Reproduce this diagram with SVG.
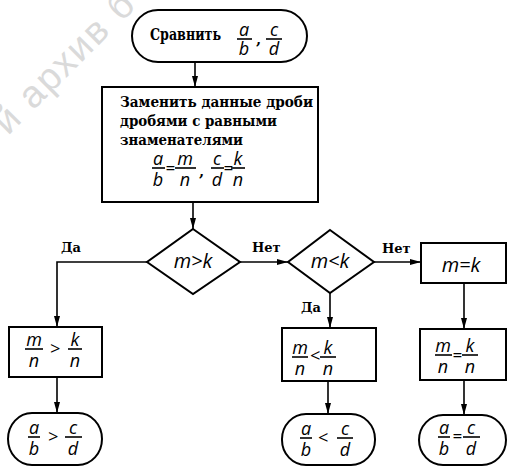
<svg xmlns="http://www.w3.org/2000/svg" width="512" height="467" viewBox="0 0 512 467">
  <style>
    .shape{fill:#fff;stroke:#000;stroke-width:2}
    .ln{fill:none;stroke:#000;stroke-width:1.6}
    .bar{stroke:#000;stroke-width:1.6}
    .cy{font-family:"DejaVu Serif","Liberation Serif",serif;font-weight:bold;font-size:15px;fill:#000}
    .lbl{font-family:"DejaVu Serif","Liberation Serif",serif;font-weight:bold;font-size:13px;fill:#000}
    .mt{font-family:"Open Sans","DejaVu Sans",sans-serif;font-style:italic;font-size:18px;fill:#000;text-anchor:middle}
    .op{font-size:17px}
    .big{font-size:20px}
    .wm{font-family:"Liberation Sans","DejaVu Sans",sans-serif;font-size:38px;fill:#dadada;letter-spacing:2px}
  </style>
  <defs>
    <marker id="ah" markerWidth="12" markerHeight="8" refX="11" refY="3" orient="auto" markerUnits="userSpaceOnUse">
      <path d="M0,0 L11,3 L0,6 z" fill="#000"/>
    </marker>
  </defs>

  <!-- background watermark -->
  <text class="wm" transform="translate(8,136) rotate(-45)">й архив б</text>

  <!-- connectors -->
  <g id="connectors" class="ln">
    <path d="M195,62 V87" marker-end="url(#ah)"/>
    <path d="M193,202 V229" marker-end="url(#ah)"/>
    <path d="M147,262 H57 V327" marker-end="url(#ah)"/>
    <path d="M240,262 H288" marker-end="url(#ah)"/>
    <path d="M374,262 H421" marker-end="url(#ah)"/>
    <path d="M330,293 V328" marker-end="url(#ah)"/>
    <path d="M464,283 V329" marker-end="url(#ah)"/>
    <path d="M57,377 V413" marker-end="url(#ah)"/>
    <path d="M328,381 V414" marker-end="url(#ah)"/>
    <path d="M464,380 V415" marker-end="url(#ah)"/>
  </g>
  <g id="edge-labels">
    <text class="lbl" x="61" y="252">Да</text>
    <text class="lbl" x="252" y="252">Нет</text>
    <text class="lbl" x="382" y="253">Нет</text>
    <text class="lbl" x="301" y="312">Да</text>
  </g>

  <!-- start -->
  <g id="start">
    <rect class="shape" x="132" y="10" width="175" height="52" rx="26" ry="26"/>
    <text class="cy" x="150" y="40" style="font-size:16px" textLength="71" lengthAdjust="spacingAndGlyphs">Сравнить</text>
    <text class="mt" x="244" y="36">a</text><line class="bar" x1="237" y1="39" x2="252" y2="39"/><text class="mt" x="244" y="55">b</text>
    <text class="cy" x="256" y="44">,</text>
    <text class="mt" x="274" y="36">c</text><line class="bar" x1="266" y1="39" x2="282" y2="39"/><text class="mt" x="274" y="55">d</text>
  </g>

  <!-- common denominator step -->
  <g id="convert">
    <rect class="shape" x="102" y="87" width="216" height="115"/>
    <text class="cy" x="120" y="107" textLength="193" lengthAdjust="spacingAndGlyphs">Заменить данные дроби</text>
    <text class="cy" x="120" y="126" textLength="157" lengthAdjust="spacingAndGlyphs">дробями с равными</text>
    <text class="cy" x="120" y="145" textLength="123" lengthAdjust="spacingAndGlyphs">знаменателями</text>
    <text class="mt" x="158" y="165">a</text><line class="bar" x1="152" y1="168" x2="165" y2="168"/><text class="mt" x="158" y="186">b</text>
    <text class="mt op" x="170" y="174">=</text>
    <text class="mt" x="185" y="165">m</text><line class="bar" x1="175" y1="168" x2="196" y2="168"/><text class="mt" x="185" y="186">n</text>
    <text class="cy" x="199" y="176">,</text>
    <text class="mt" x="217" y="165">c</text><line class="bar" x1="211" y1="168" x2="224" y2="168"/><text class="mt" x="217" y="186">d</text>
    <text class="mt op" x="228" y="174">=</text>
    <text class="mt" x="238" y="165">k</text><line class="bar" x1="231" y1="168" x2="245" y2="168"/><text class="mt" x="238" y="186">n</text>
  </g>

  <!-- decisions -->
  <g id="test-greater">
    <polygon class="shape" points="193,229 240,262 193,294 147,262"/>
    <text class="mt big" x="193" y="268">m&gt;k</text>
  </g>
  <g id="test-less">
    <polygon class="shape" points="330,230 374,262 330,293 288,262"/>
    <text class="mt big" x="330" y="268">m&lt;k</text>
  </g>
  <g id="equal">
    <rect class="shape" x="421" y="243" width="85" height="40"/>
    <text class="mt big" x="461" y="272">m=k</text>
  </g>

  <!-- comparison of numerators -->
  <g id="frac-greater">
    <rect class="shape" x="9" y="327" width="93" height="50"/>
    <text class="mt" x="34" y="346">m</text><line class="bar" x1="25" y1="349" x2="43" y2="349"/><text class="mt" x="34" y="367">n</text>
    <text class="mt" x="55" y="355">&gt;</text>
    <text class="mt" x="75" y="346">k</text><line class="bar" x1="68" y1="349" x2="82" y2="349"/><text class="mt" x="75" y="367">n</text>
  </g>
  <g id="frac-less">
    <rect class="shape" x="282" y="328" width="94" height="53"/>
    <text class="mt" x="300" y="354">m</text><line class="bar" x1="292" y1="357" x2="308" y2="357"/><text class="mt" x="300" y="375">n</text>
    <text class="mt" x="315" y="362">&lt;</text>
    <text class="mt" x="328" y="354">k</text><line class="bar" x1="320" y1="357" x2="336" y2="357"/><text class="mt" x="328" y="375">n</text>
  </g>
  <g id="frac-equal">
    <rect class="shape" x="420" y="329" width="86" height="51"/>
    <text class="mt" x="443" y="352">m</text><line class="bar" x1="435" y1="355" x2="452" y2="355"/><text class="mt" x="443" y="373">n</text>
    <text class="mt op" x="457" y="361">=</text>
    <text class="mt" x="470" y="352">k</text><line class="bar" x1="462" y1="355" x2="478" y2="355"/><text class="mt" x="470" y="373">n</text>
  </g>

  <!-- results -->
  <g id="result-greater">
    <rect class="shape" x="8" y="413" width="94" height="52" rx="24" ry="26"/>
    <text class="mt" x="34" y="434">a</text><line class="bar" x1="28" y1="437" x2="40" y2="437"/><text class="mt" x="34" y="455">b</text>
    <text class="mt" x="53" y="443">&gt;</text>
    <text class="mt" x="73" y="434">c</text><line class="bar" x1="65" y1="437" x2="82" y2="437"/><text class="mt" x="73" y="455">d</text>
  </g>
  <g id="result-less">
    <rect class="shape" x="282" y="414" width="93" height="51" rx="24" ry="25"/>
    <text class="mt" x="306" y="435">a</text><line class="bar" x1="300" y1="438" x2="312" y2="438"/><text class="mt" x="306" y="456">b</text>
    <text class="mt" x="323" y="444">&lt;</text>
    <text class="mt" x="345" y="435">c</text><line class="bar" x1="337" y1="438" x2="353" y2="438"/><text class="mt" x="345" y="456">d</text>
  </g>
  <g id="result-equal">
    <rect class="shape" x="419" y="415" width="87" height="50" rx="24" ry="25"/>
    <text class="mt" x="444" y="434">a</text><line class="bar" x1="438" y1="437" x2="450" y2="437"/><text class="mt" x="444" y="455">b</text>
    <text class="mt op" x="457" y="442">=</text>
    <text class="mt" x="471" y="434">c</text><line class="bar" x1="463" y1="437" x2="480" y2="437"/><text class="mt" x="471" y="455">d</text>
  </g>
</svg>
